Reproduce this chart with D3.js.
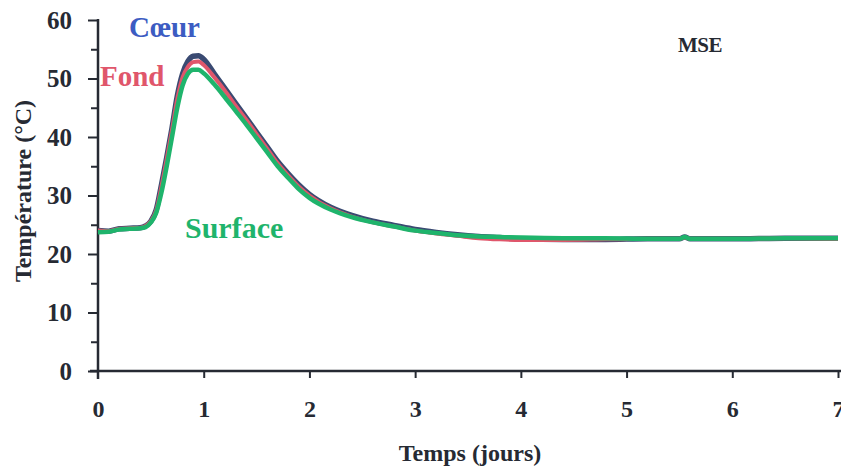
<!DOCTYPE html>
<html><head><meta charset="utf-8">
<script src="https://cdn.jsdelivr.net/npm/d3@7"></script>
<style>body{margin:0;background:#fff}svg{display:block}text{font-family:"Liberation Serif","Times New Roman",serif;font-weight:bold}</style>
</head><body><svg id="c" width="841" height="467"></svg>
<script>
const days = [0,0.1,0.2,0.3,0.4,0.45,0.5,0.55,0.6,0.65,0.7,0.75,0.8,0.85,0.9,0.95,1.0,1.1,1.2,1.3,1.4,1.5,1.6,1.7,1.8,1.9,2.0,2.2,2.4,2.6,2.8,3.0,3.2,3.4,3.6,3.8,4.0,4.4,4.8,5.2,5.5,5.55,5.6,6.0,6.5,7.0];
const coeur = [24.0,23.9,24.3,24.4,24.5,24.8,25.6,27.5,31.8,36.5,41.5,47.0,50.8,52.9,53.8,53.9,53.3,50.8,48.3,45.8,43.3,40.8,38.3,35.8,33.7,31.8,30.2,28.0,26.6,25.6,24.9,24.2,23.7,23.3,23.0,22.8,22.6,22.5,22.5,22.6,22.6,22.9,22.6,22.6,22.7,22.7];
const fond = [24.0,23.9,24.3,24.4,24.5,24.8,25.6,27.4,31.5,36.2,41.2,46.5,50.2,52.0,52.8,52.9,52.3,50.2,47.9,45.4,43.0,40.5,38.0,35.5,33.4,31.5,30.0,27.8,26.4,25.4,24.7,24.0,23.5,23.1,22.7,22.5,22.4,22.4,22.5,22.6,22.6,22.8,22.6,22.6,22.7,22.6];
const surface = [23.7,23.8,24.2,24.3,24.4,24.6,25.4,27.0,30.5,35.0,40.0,45.0,48.8,50.8,51.5,51.5,50.9,49.0,46.8,44.5,42.2,39.8,37.4,35.0,33.0,31.1,29.6,27.6,26.3,25.4,24.7,24.0,23.6,23.2,23.0,22.9,22.8,22.7,22.7,22.6,22.6,22.9,22.6,22.6,22.7,22.7];
const xTicks = [0,1,2,3,4,5,6,7];
const yTicks = [0,10,20,30,40,50,60];
const yMinor = [5,15,25,35,45,55];
const seriesNames = ["Cœur","Fond","Surface"];

const svg = d3.select("#c");
const x = d3.scaleLinear().domain([0,7]).range([98,838]);
const y = d3.scaleLinear().domain([0,60]).range([371,20]);
const ink = "#262a33";

// axes
const gy = svg.append("g").attr("transform","translate(98,0)")
  .call(d3.axisLeft(y).tickValues(yTicks).tickSize(10).tickPadding(16).tickFormat(d3.format("d")));
gy.select(".domain").remove();
gy.selectAll(".tick line").attr("stroke",ink).attr("stroke-width",2);
gy.selectAll(".tick text").attr("fill",ink).style("font-size","25px").style("font-family","Liberation Serif").style("font-weight","bold");
svg.append("g").attr("transform","translate(98,0)")
  .call(d3.axisLeft(y).tickValues(yMinor).tickSize(7).tickFormat(""))
  .call(g=>g.select(".domain").remove())
  .selectAll(".tick line").attr("stroke",ink).attr("stroke-width",2);
svg.append("line").attr("x1",98).attr("x2",98).attr("y1",y(60)-1).attr("y2",y(0)+8).attr("stroke",ink).attr("stroke-width",2.5);

const gx = svg.append("g").attr("transform","translate(0,371)")
  .call(d3.axisBottom(x).tickValues(xTicks).tickSize(7).tickPadding(22).tickFormat(d3.format("d")));
gx.select(".domain").remove();
gx.selectAll(".tick line").attr("stroke",ink).attr("stroke-width",2).attr("opacity",(d)=>d===0?0:1);
gx.selectAll(".tick text").attr("fill",ink).style("font-size","24px").style("font-family","Liberation Serif").style("font-weight","bold");
svg.append("line").attr("x1",90).attr("x2",841).attr("y1",371).attr("y2",371).attr("stroke",ink).attr("stroke-width",2.5);

// lines
const line = d3.line().x((d,i)=>x(days[i])).y(d=>y(d)).curve(d3.curveMonotoneX);
svg.append("path").datum(coeur).attr("d",line).attr("fill","none").attr("stroke","#3a4a72").attr("stroke-width",5.5).attr("stroke-linejoin","round");
svg.append("path").datum(fond).attr("d",line).attr("fill","none").attr("stroke","#e0566b").attr("stroke-width",4).attr("stroke-linejoin","round");
svg.append("path").datum(surface).attr("d",line).attr("fill","none").attr("stroke","#1fb46c").attr("stroke-width",4.5).attr("stroke-linejoin","round");

// labels
svg.append("text").attr("x",129).attr("y",37).attr("fill","#3c5cc2").style("font-size","29px").text(seriesNames[0]);
svg.append("text").attr("x",100).attr("y",86).attr("fill","#e0566b").style("font-size","29px").text(seriesNames[1]);
svg.append("text").attr("x",185).attr("y",238).attr("fill","#1fb46c").style("font-size","30px").text(seriesNames[2]);
svg.append("text").attr("x",678).attr("y",52).attr("fill",ink).style("font-size","21px").attr("letter-spacing","-0.5").text("MSE");

svg.append("text").attr("x",470).attr("y",461).attr("text-anchor","middle").attr("fill",ink).style("font-size","24px").text("Temps (jours)");
svg.append("text").attr("transform","translate(31,191) rotate(-90)").attr("text-anchor","middle").attr("fill",ink).style("font-size","24px").text("Température (°C)");
</script></body></html>
